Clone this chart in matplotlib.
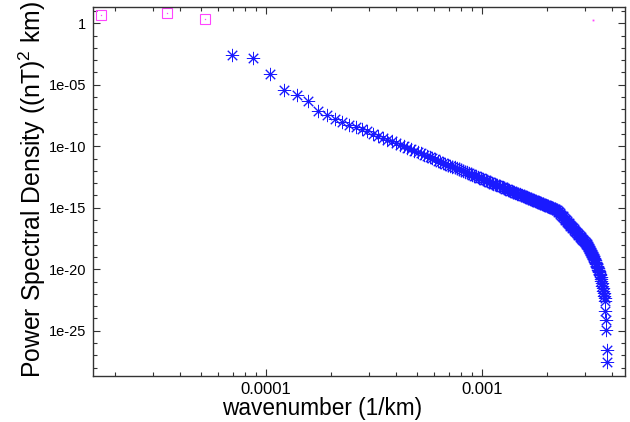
import numpy as np
import matplotlib
matplotlib.use('Agg')
import matplotlib.pyplot as plt
from matplotlib.ticker import FixedLocator, NullFormatter

plt.rcParams['font.family'] = ['Liberation Sans', 'DejaVu Sans']
plt.rcParams['mathtext.fontset'] = 'custom'
plt.rcParams['mathtext.rm'] = 'Liberation Sans'

# low wavenumber bins (drawn as open squares)
k_low = [1.73e-5, 3.47e-5, 5.20e-5]
psd_low = [4.73, 6.50, 2.11]
k_dot = [3.254e-3]
psd_dot = [1.96]

# spectrum bins, wavenumber in units of 1e-5 1/km
k_e5 = [
    6.94, 8.67, 10.40, 12.14, 13.87, 15.61, 17.34, 19.07, 20.81, 22.54,
    24.28, 26.01, 27.74, 29.48, 31.21, 32.95, 34.68, 36.41, 38.15, 39.88,
    41.62, 43.35, 45.08, 46.82, 48.55, 50.29, 52.02, 53.75, 55.49, 57.22,
    58.96, 60.69, 62.42, 64.16, 65.89, 67.63, 69.36, 71.09, 72.83, 74.56,
    76.30, 78.03, 79.76, 81.50, 83.23, 84.97, 86.70, 88.43, 90.17, 91.90,
    93.64, 95.37, 97.10, 98.84, 100.57, 102.31, 104.04, 105.77, 107.51, 109.24,
    110.98, 112.71, 114.44, 116.18, 117.91, 119.65, 121.38, 123.11, 124.85, 126.58,
    128.32, 130.05, 131.78, 133.52, 135.25, 136.99, 138.72, 140.45, 142.19, 143.92,
    145.66, 147.39, 149.12, 150.86, 152.59, 154.33, 156.06, 157.79, 159.53, 161.26,
    163.00, 164.73, 166.46, 168.20, 169.93, 171.67, 173.40, 175.13, 176.87, 178.60,
    180.34, 182.07, 183.80, 185.54, 187.27, 189.01, 190.74, 192.47, 194.21, 195.94,
    197.68, 199.41, 201.14, 202.88, 204.61, 206.35, 208.08, 209.81, 211.55, 213.28,
    215.02, 216.75, 218.48, 220.22, 221.95, 223.69, 225.42, 227.15, 228.89, 230.62,
    232.36, 234.09, 235.82, 237.56, 239.29, 241.03, 242.76, 244.49, 246.23, 247.96,
    249.70, 251.43, 253.16, 254.90, 256.63, 258.37, 260.10, 261.83, 263.57, 265.30,
    267.04, 268.77, 270.50, 272.24, 273.97, 275.71, 277.44, 279.17, 280.91, 282.64,
    284.38, 286.11, 287.84, 289.58, 291.31, 293.05, 294.78, 296.51, 298.25, 299.98,
    301.72, 303.45, 305.18, 306.92, 308.65, 310.39, 312.12, 313.85, 315.59, 317.32,
    319.06, 320.79, 322.52, 324.26, 325.99, 327.73, 329.46, 331.19, 332.93, 334.66,
    336.40, 338.13, 339.86, 341.60, 343.33, 345.07, 346.80, 348.53, 350.27, 352.00,
    353.74, 355.47, 357.20, 358.94, 360.67, 362.41, 364.14, 365.87, 367.61, 369.34,
    371.08, 372.81, 374.54, 376.28, 378.01, 379.75,
]

# log10 of the power spectral density for each bin above
log_psd = [
    -2.58, -2.85, -4.15, -5.42, -5.83, -6.32, -7.11, -7.46, -7.78, -8.03,
    -8.25, -8.42, -8.61, -8.79, -8.97, -9.14, -9.30, -9.46, -9.60, -9.74,
    -9.88, -10.01, -10.13, -10.25, -10.37, -10.48, -10.58, -10.69, -10.79, -10.88,
    -10.98, -11.07, -11.16, -11.25, -11.33, -11.41, -11.49, -11.57, -11.65, -11.72,
    -11.79, -11.87, -11.94, -12.00, -12.07, -12.13, -12.20, -12.26, -12.32, -12.38,
    -12.44, -12.50, -12.56, -12.61, -12.67, -12.72, -12.78, -12.83, -12.88, -12.93,
    -12.98, -13.03, -13.08, -13.12, -13.17, -13.22, -13.26, -13.31, -13.35, -13.39,
    -13.44, -13.48, -13.52, -13.56, -13.60, -13.64, -13.68, -13.72, -13.76, -13.80,
    -13.84, -13.88, -13.91, -13.95, -13.99, -14.02, -14.06, -14.09, -14.13, -14.16,
    -14.19, -14.23, -14.26, -14.29, -14.33, -14.36, -14.39, -14.42, -14.45, -14.48,
    -14.51, -14.54, -14.57, -14.60, -14.63, -14.66, -14.69, -14.72, -14.75, -14.78,
    -14.80, -14.83, -14.86, -14.89, -14.91, -14.94, -14.97, -14.99, -15.02, -15.04,
    -15.07, -15.10, -15.12, -15.15, -15.17, -15.24, -15.31, -15.37, -15.44, -15.51,
    -15.57, -15.64, -15.70, -15.77, -15.83, -15.89, -15.96, -16.02, -16.08, -16.14,
    -16.20, -16.27, -16.33, -16.38, -16.45, -16.50, -16.56, -16.62, -16.68, -16.74,
    -16.79, -16.85, -16.91, -16.96, -17.02, -17.07, -17.13, -17.18, -17.24, -17.29,
    -17.34, -17.40, -17.45, -17.50, -17.56, -17.61, -17.66, -17.71, -17.76, -17.81,
    -17.86, -17.91, -17.96, -18.01, -18.11, -18.19, -18.27, -18.35, -18.43, -18.51,
    -18.59, -18.67, -18.75, -18.84, -18.92, -19.00, -19.08, -19.18, -19.28, -19.38,
    -19.49, -19.60, -19.70, -19.81, -19.92, -20.03, -20.14, -20.24, -20.35, -20.46,
    -20.60, -20.78, -20.96, -21.15, -21.35, -21.55, -21.75, -21.95, -22.15, -22.37,
    -22.60, -23.40, -24.10, -24.93, -26.56, -27.51,
]

y_major = [1e0, 1e-5, 1e-10, 1e-15, 1e-20, 1e-25]
y_major_labels = ['1', '1e-05', '1e-10', '1e-15', '1e-20', '1e-25']
x_major = [1e-4, 1e-3]
x_major_labels = ['0.0001', '0.001']

k = np.array(k_e5) * 1e-5
psd = 10.0 ** np.array(log_psd)

fig = plt.figure(figsize=(6.3, 4.22), dpi=100)
ax = fig.add_axes([93 / 630, 1 - 376 / 422, 532 / 630, 369 / 422])

# 8-arm asterisk for the spectrum
ax.plot(k, psd, ls='none', marker=(8, 2, 0), ms=9.5, mew=0.7, color='#1a1aff')
ax.plot(k, psd, ls='none', marker='o', ms=1.5, mew=0, color='#1a1aff')

ax.plot(k_low, psd_low, ls='none', marker='s', ms=7.8, mew=0.8,
        mfc='none', mec='#ff44ff')
ax.plot(k_low, psd_low, ls='none', marker='s', ms=0.9, mew=0, color='#ff44ff')
ax.plot(k_dot, psd_dot, ls='none', marker='s', ms=1.3, mew=0, color='#ff44ff')

ax.set_xscale('log')
ax.set_yscale('log')
ax.set_xlim(1.581e-5, 4.59e-3)
ax.set_ylim(2.1e-29, 21.1)

ax.yaxis.set_major_locator(FixedLocator(y_major))
ax.yaxis.set_minor_locator(FixedLocator([10.0 ** e for e in range(1, -29, -1)]))
ax.set_yticklabels(y_major_labels)
ax.yaxis.set_minor_formatter(NullFormatter())

ax.xaxis.set_major_locator(FixedLocator(x_major))
ax.set_xticklabels(x_major_labels)
ax.xaxis.set_minor_formatter(NullFormatter())

ax.tick_params(which='both', direction='in', top=True, right=True,
               color='#333333', width=0.8)
ax.tick_params(which='major', length=5)
ax.tick_params(which='minor', length=3)
ax.tick_params(axis='y', labelsize=10.5, pad=5)
ax.tick_params(axis='x', labelsize=12, pad=4)

for s in ax.spines.values():
    s.set_color('#333333')
    s.set_linewidth(1.0)

fig.text(322 / 630, 1 - 409 / 422, 'wavenumber (1/km)', fontsize=16.3,
         ha='center', va='center')
fig.text(32 / 630, 1 - 190 / 422, r'Power Spectral Density ((nT)$^2$ km)',
         fontsize=17.8, rotation=90, ha='center', va='center')

fig.savefig('out.png', dpi=100)
